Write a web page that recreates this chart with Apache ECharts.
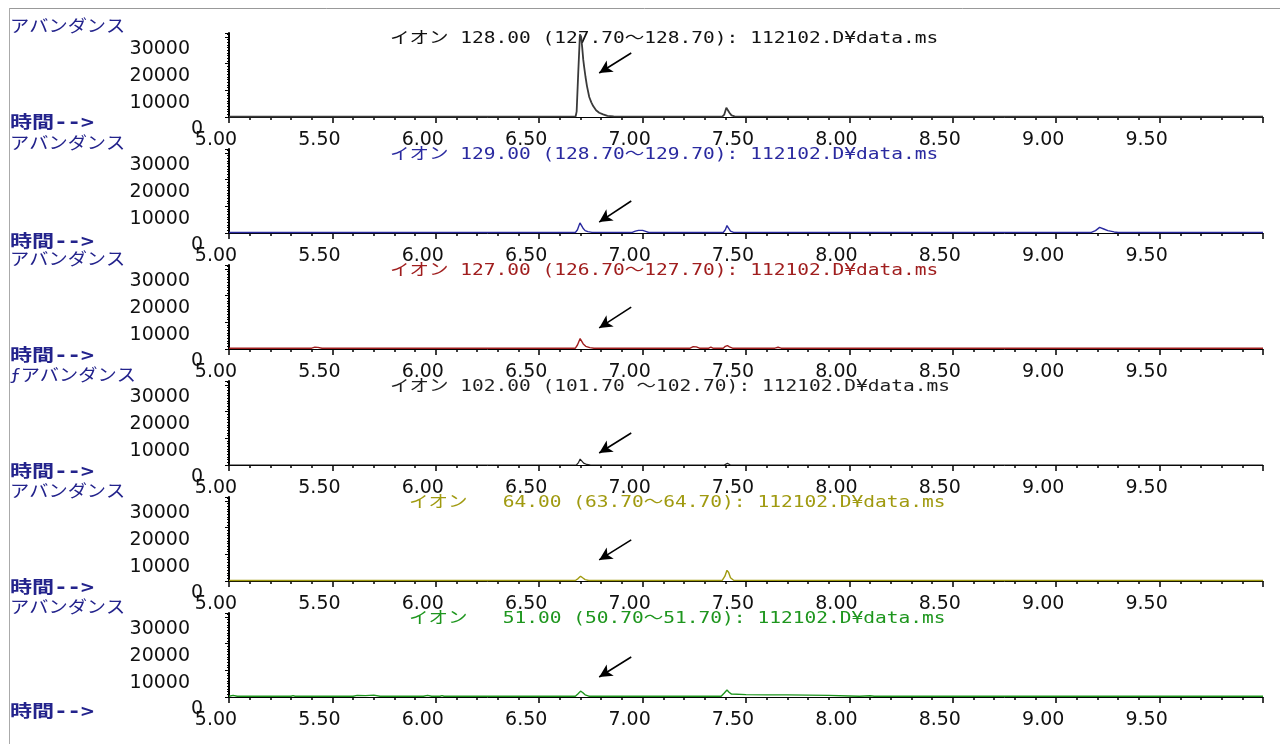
<!DOCTYPE html>
<html><head><meta charset="utf-8">
<script src="https://cdn.jsdelivr.net/npm/echarts@6/dist/echarts.min.js"></script>
<style>html,body{margin:0;padding:0;background:#fff}#c{width:1280px;height:744px}</style>
</head><body><div id="c"></div>
<script>
// ---- data (retention time [min], abundance) ----
const ion128 = [[5.00,150],[5.50,120],[6.00,150],[6.50,130],[6.676,200],[6.681,2000],[6.689,17000],[6.697,31000],[6.703,30000],[6.708,26000],[6.713,21500],[6.717,19000],[6.724,15000],[6.731,11600],[6.742,7500],[6.752,5500],[6.761,4100],[6.775,2500],[6.790,1600],[6.809,1000],[6.83,400],[6.86,200],[7.00,150],[7.385,150],[7.395,900],[7.405,3500],[7.412,3400],[7.420,1600],[7.430,600],[7.445,200],[8.00,150],[9.00,140],[10.00,150]];
const ion129 = [[5.00,200],[6.675,200],[6.685,1200],[6.697,3800],[6.703,3600],[6.712,1800],[6.722,900],[6.735,500],[6.755,250],[6.95,200],[6.965,700],[6.98,1000],[7.00,1000],[7.015,600],[7.03,200],[7.39,200],[7.400,1200],[7.408,2800],[7.416,2200],[7.425,700],[7.44,250],[9.17,200],[9.19,900],[9.21,2100],[9.23,1500],[9.25,900],[9.28,400],[9.30,200],[10.00,200]];
const ion127 = [[5.00,300],[5.40,300],[5.415,700],[5.43,600],[5.45,300],[6.675,300],[6.685,1500],[6.698,3900],[6.705,3600],[6.713,1900],[6.725,1000],[6.745,500],[6.765,300],[7.23,300],[7.245,900],[7.26,800],[7.275,300],[7.32,300],[7.33,700],[7.34,300],[7.39,300],[7.40,1000],[7.41,1300],[7.42,800],[7.435,300],[7.64,300],[7.655,650],[7.67,300],[10.00,300]];
const ion102 = [[5.00,0],[6.680,0],[6.690,900],[6.698,2200],[6.706,1800],[6.715,700],[6.73,200],[6.75,0],[7.395,0],[7.41,600],[7.425,0],[10.00,0]];
const ion64 = [[5.00,200],[6.675,200],[6.688,900],[6.700,1800],[6.710,1200],[6.722,500],[6.74,200],[7.385,200],[7.398,1800],[7.408,4000],[7.416,3200],[7.425,1200],[7.44,300],[10.00,200]];
const ion51 = [[5.00,300],[5.02,600],[5.04,300],[5.30,300],[5.31,500],[5.32,300],[5.60,300],[5.62,600],[5.66,500],[5.70,700],[5.73,300],[5.94,300],[5.96,600],[5.98,300],[6.02,300],[6.03,500],[6.04,300],[6.675,300],[6.688,1200],[6.700,2200],[6.710,1700],[6.722,800],[6.74,300],[7.38,300],[7.395,1500],[7.408,2600],[7.418,1800],[7.43,1100],[7.50,900],[7.60,800],[7.70,800],[7.80,700],[7.90,600],[8.00,400],[8.05,300],[8.10,450],[8.12,300],[10.00,300]];

const panelData = [ion128, ion129, ion127, ion102, ion64, ion51];
const panelTitles = [
  'イオン 128.00 (127.70～128.70): 112102.D¥data.ms',
  'イオン 129.00 (128.70～129.70): 112102.D¥data.ms',
  'イオン 127.00 (126.70～127.70): 112102.D¥data.ms',
  'イオン 102.00 (101.70 ～102.70): 112102.D¥data.ms',
  'イオン   64.00 (63.70～64.70): 112102.D¥data.ms',
  'イオン   51.00 (50.70～51.70): 112102.D¥data.ms'
];
const yNames = ['アバンダンス','アバンダンス','アバンダンス','ƒアバンダンス','アバンダンス','アバンダンス'];
const xName = '時間-->';
const panelColors = ['#3a3a3a','#2a2aa0','#a01e1e','#1e1e1e','#a09a10','#1e961e'];
const panelWidths = [1.8, 1.4, 1.4, 1.2, 1.4, 1.4];
// arrow annotations: [tail, head] in (time, abundance)
const arrowTails = [[6.945,24000],[6.945,12000],[6.945,15700],[6.945,12000],[6.945,15400],[6.945,15000]];
const arrowHeads = [[6.790,16500],[6.790,4100],[6.790,7900],[6.790,4500],[6.790,7900],[6.790,7500]];

// ---- layout ----
const TOP0 = 33, STEP = 116, H = 84, LEFT = 229, RIGHT = 17;
const labelFont = 'DejaVu Sans';
const titleFont = "'DejaVu Sans Mono', 'Noto Sans CJK JP'";
const jpFont = "'Noto Sans CJK JP'";
const blue = '#23238c';
const yLabelY = [26,143,259,375,491,607];
const xLabelY = [124,243,357,473,589,713];

const grids = [], xAxes = [], yAxes = [], series = [], graphics = [];
panelData.forEach((d, i) => {
  grids.push({left: LEFT, right: RIGHT, top: TOP0 + STEP * i, height: H});
  xAxes.push({
    type: 'value', gridIndex: i, min: 5, max: 10, interval: 0.5,
    axisLine: {show: true, onZero: false, lineStyle: {color: '#000', width: 1}},
    axisTick: {show: true, length: 6, lineStyle: {color: '#000', width: 1.5}},
    minorTick: {show: true, splitNumber: 5, length: 3, lineStyle: {color: '#000', width: 1.5}},
    splitLine: {show: false}, minorSplitLine: {show: false},
    axisLabel: {
      formatter: v => (v > 9.99 ? '' : v.toFixed(2)),
      fontFamily: labelFont, fontSize: 19, color: '#111', margin: 14, padding: [0, 26, 0, 0]
    }
  });
  yAxes.push({
    type: 'value', gridIndex: i, min: 0, max: 31500, interval: 10000,
    axisLine: {show: true, onZero: false, lineStyle: {color: '#000', width: 2}},
    axisTick: {show: true, length: 4, lineStyle: {color: '#000'}},
    minorTick: {show: true, splitNumber: 10, length: 2, lineStyle: {color: '#000'}},
    splitLine: {show: false}, minorSplitLine: {show: false},
    axisLabel: {
      margin: 26, padding: [25, 0, 0, 0],
      formatter: v => (v % 10000 !== 0 ? '' : (v === 0 ? '{z|0}' : '{n|' + v + '}')),
      rich: {
        z: {fontFamily: labelFont, fontSize: 19, color: '#111'},
        n: {fontFamily: labelFont, fontSize: 19, color: '#111', padding: [0, 13, 0, 0]}
      }
    }
  });
  series.push({
    type: 'line', xAxisIndex: i, yAxisIndex: i, data: d,
    symbol: 'none', showSymbol: false, clip: true, z: 5,
    lineStyle: {color: panelColors[i], width: panelWidths[i]},
    itemStyle: {color: panelColors[i]},
    markLine: {
      silent: true, symbol: ['none', 'arrow'], symbolSize: [10, 13],
      label: {show: false},
      lineStyle: {color: '#000', width: 1.6, type: 'solid'},
      itemStyle: {color: '#000'},
      data: [[{coord: arrowTails[i]}, {coord: arrowHeads[i]}]]
    }
  });
  graphics.push({type: 'text', x: 390 + (i >= 4 ? 19 : 0), y: 39 + STEP * i, scaleX: 1.22, scaleY: 1, z: 1,
    style: {text: panelTitles[i], fill: panelColors[i] === '#3a3a3a' ? '#111' : panelColors[i], fontFamily: titleFont, fontSize: 16, verticalAlign: 'middle', align: 'left'}});
  graphics.push({type: 'text', x: 10, y: yLabelY[i], scaleX: 1.13, scaleY: 1,
    style: {text: yNames[i], fill: blue, fontFamily: jpFont, fontSize: 17, verticalAlign: 'middle', align: 'left'}});
  graphics.push({type: 'text', x: 10, y: xLabelY[i], scaleX: 1.3, scaleY: 1,
    style: {text: xName, fill: blue, fontFamily: "'DejaVu Sans Mono', 'Noto Sans CJK JP'", fontSize: 17, fontWeight: 'bold', verticalAlign: 'middle', align: 'left'}});
});
graphics.push({type: 'line', shape: {x1: 9, y1: 8.5, x2: 1280, y2: 8.5}, style: {stroke: '#999', lineWidth: 1}});
graphics.push({type: 'line', shape: {x1: 9.5, y1: 8, x2: 9.5, y2: 744}, style: {stroke: '#aaa', lineWidth: 1}});

const chart = echarts.init(document.getElementById('c'));
chart.setOption({
  animation: false,
  backgroundColor: '#fff',
  grid: grids, xAxis: xAxes, yAxis: yAxes, series: series,
  graphic: graphics
});
</script></body></html>
